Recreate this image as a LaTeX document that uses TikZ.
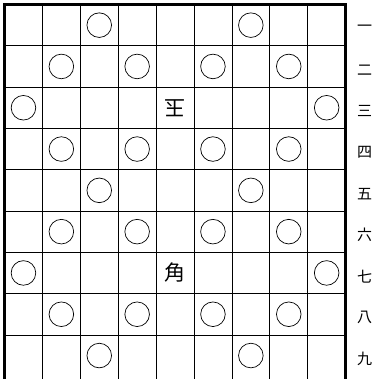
\documentclass[tikz,border=0pt]{standalone}
\usepackage{fontspec}
\newfontfamily\jp{Noto Sans CJK JP}
\begin{document}
\begin{tikzpicture}[x=1pt,y=-1pt,
  gridline/.style={line width=0.8pt},
  boardedge/.style={line width=3pt},
  spot/.style={circle,draw,line width=0.7pt,minimum size=24.6pt,inner sep=0pt},
  piece/.style={font=\jp\fontsize{21}{21}\selectfont,inner sep=0pt},
  rowlabel/.style={font=\jp\fontsize{15}{15}\selectfont,inner sep=0pt}]
\useasboundingbox (0,0) rectangle (378,379);
\clip (0,0) rectangle (378,379);
\def\cw{37.9}\def\ch{41.3}
\foreach \i in {1,...,8} \draw[gridline] ({4.5+\cw*\i},4.5) -- ({4.5+\cw*\i},400);
\foreach \j in {1,...,8} \draw[gridline] (4.5,{4.5+\ch*\j}) -- (345.6,{4.5+\ch*\j});
\draw[boardedge] (4.5,400) -- (4.5,4.5) -- (345.6,4.5) -- (345.6,400);
% spots: column, row
\foreach \c/\r in {3/1,7/1,2/2,4/2,6/2,8/2,1/3,9/3,2/4,4/4,6/4,8/4,3/5,7/5,2/6,4/6,6/6,8/6,1/7,9/7,2/8,4/8,6/8,8/8,3/9,7/9}
  \node[spot] (s-\c-\r) at ({4.5+\cw*(\c-0.5)},{4.5+\ch*(\r-0.5)}) {};
\node[piece,rotate=180] (gyoku) at ({4.5+\cw*4.5},{4.5+\ch*2.5}) {玉};
\node[piece] (kaku) at ({4.5+\cw*4.5},{4.5+\ch*6.5}) {角};
\foreach \r/\t in {1/一,2/二,3/三,4/四,5/五,6/六,7/七,8/八,9/九}
  \node[rowlabel] (l-\r) at (364.5,{8+\ch*(\r-0.5)}) {\t};
\end{tikzpicture}
\end{document}
